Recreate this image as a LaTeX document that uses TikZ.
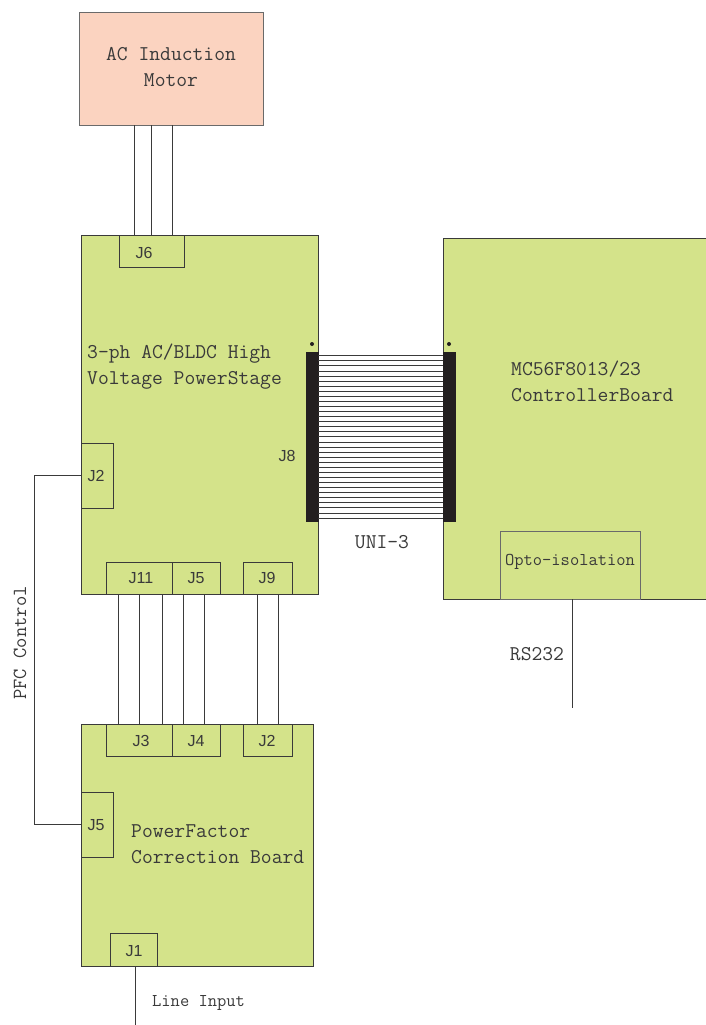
\documentclass[tikz,border=0pt]{standalone}
\usepackage{fontspec}
\newfontfamily\jfont{Liberation Sans}
\usetikzlibrary{calc}
\definecolor{boardgreen}{HTML}{D4E38A}
\definecolor{motorpink}{HTML}{FBD3C0}
\definecolor{edgecol}{HTML}{3A3A3A}
\definecolor{edgegray}{HTML}{6A6A6A}
\definecolor{barcol}{HTML}{231F20}
\begin{document}
\begin{tikzpicture}[x=1pt,y=-1pt,
  box/.style={draw=edgecol,line width=1pt,inner sep=0pt,outer sep=0pt,anchor=north west},
  board/.style={box,fill=boardgreen},
  jbox/.style={box,fill=boardgreen},
  jlbl/.style={font=\jfont\fontsize{16}{18}\selectfont,text=edgecol,inner sep=0pt},
  lbl/.style={font=\ttfamily\fontsize{21}{26}\selectfont,text=edgecol,inner sep=0pt},
  slbl/.style={font=\ttfamily\fontsize{18}{21}\selectfont,text=edgecol,inner sep=0pt},
  wire/.style={draw=edgecol,line width=1pt},
  ribbon/.style={draw=edgecol,line width=0.9pt}]
\useasboundingbox (0,0) rectangle (706,1025);
% boards
\node[box,fill=motorpink,draw=edgegray,minimum width=184pt,minimum height=112pt] (motor) at (79,13) {};
\node[board,minimum width=237pt,minimum height=359pt] (ps) at (81,235) {};
\node[board,minimum width=263pt,minimum height=361pt] (ctrl) at (443,238) {};
\node[board,minimum width=232pt,minimum height=242pt] (pfc) at (81,724) {};
% connectors on power stage
\node[jbox,minimum width=65pt,minimum height=32pt] (j6) at (119,235) {};
\node[jbox,minimum width=32pt,minimum height=65pt] (psj2) at (81,443) {};
\node[jbox,minimum width=66pt,minimum height=32pt] (j11) at (106,562) {};
\node[jbox,minimum width=48pt,minimum height=32pt] (psj5) at (172,562) {};
\node[jbox,minimum width=49pt,minimum height=32pt] (j9) at (243,562) {};
% connectors on PFC board
\node[jbox,minimum width=66pt,minimum height=32pt] (j3) at (106,724) {};
\node[jbox,minimum width=48pt,minimum height=32pt] (j4) at (172,724) {};
\node[jbox,minimum width=49pt,minimum height=32pt] (pfcj2) at (243,724) {};
\node[jbox,minimum width=32pt,minimum height=65pt] (pfcj5) at (81,792) {};
\node[jbox,minimum width=47pt,minimum height=33pt] (j1) at (110,933) {};
% opto
\node[box,draw=edgegray,line width=0.7pt,minimum width=140pt,minimum height=68pt] (opto) at (500,531) {};
% J labels
\node[jlbl] (j6t) at (144,253) {J6};
\node[jlbl] (psj2t) at (96,476) {J2};
\node[jlbl] (j11t) at (141,578) {J11};
\node[jlbl] (psj5t) at (196,578) {J5};
\node[jlbl] (j9t) at (267,578) {J9};
\node[jlbl] (j3t) at (141,741) {J3};
\node[jlbl] (j4t) at (196,741) {J4};
\node[jlbl] (pfcj2t) at (267,741) {J2};
\node[jlbl] (pfcj5t) at (96,825) {J5};
\node[jlbl] (j1t) at (134,951) {J1};
\node[jlbl] (j8t) at (287,456) {J8};
% texts
\node[lbl,align=center,anchor=north] (motort) at (171,47) {AC Induction\\Motor};
\node[lbl,align=left,anchor=base west] (pst1) at (87,358) {3-ph AC/BLDC High};
\node[lbl,align=left,anchor=base west] (pst2) at (87,384) {Voltage PowerStage};
\node[lbl,align=left,anchor=base west] (ct1) at (511,375) {MC56F8013/23};
\node[lbl,align=left,anchor=base west] (ct2) at (511,401) {ControllerBoard};
\node[lbl,align=left,anchor=base west] (pft1) at (131,837) {PowerFactor};
\node[lbl,align=left,anchor=base west] (pft2) at (131,863) {Correction Board};
\node[slbl] (optot) at (570,562) {Opto-isolation};
\node[lbl] (rs) at (537,654) {RS232};
\node[slbl,anchor=west] (li) at (152,1003) {Line Input};
\node[lbl] (uni) at (382,542) {UNI-3};
\node[lbl,font=\ttfamily\fontsize{20}{24}\selectfont,rotate=90] (pfcc) at (20,643) {PFC Control};
% motor wires
\foreach \xx in {134,151,172}
  \draw[wire] (\xx,0 |- motor.south) -- (\xx,0 |- j6.north);
% power stage <-> PFC wires
\foreach \xx in {118,139,162,183,204,257,278}
  \draw[wire] (\xx,0 |- j11.south) -- (\xx,0 |- j3.north);
% PFC control
\coordinate (pcA) at (34,0 |- psj2.west);
\coordinate (pcB) at (34,0 |- pfcj5.west);
\draw[wire] (psj2.west) -- (pcA) -- (pcB) -- (pfcj5.west);
% RS232 and line input
\coordinate (rsend) at (572,708);
\draw[wire] (572,0 |- opto.south) -- (rsend);
\coordinate (liend) at (135,1025);
\draw[wire] (135,0 |- j1.south) -- (liend);
% ribbon cable
\node[box,fill=barcol,draw=barcol,minimum width=12pt,minimum height=169pt] (lbar) at (306,352) {};
\node[box,fill=barcol,draw=barcol,minimum width=12pt,minimum height=169pt] (rbar) at (443,352) {};
\foreach \i in {0,...,32}
  \draw[ribbon] (lbar.east |- 0,{355.8+\i*5.07}) -- (rbar.west |- 0,{355.8+\i*5.07});
\fill[barcol] (312,344) circle (2pt);
\fill[barcol] (449,344) circle (2pt);
\end{tikzpicture}
\end{document}
